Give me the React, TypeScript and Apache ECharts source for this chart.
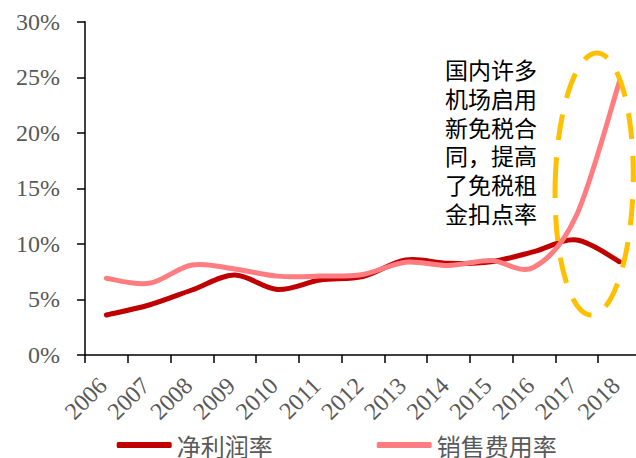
import React, { useEffect, useRef } from "react";
import * as echarts from "echarts";

const years = ["2006", "2007", "2008", "2009", "2010", "2011", "2012", "2013", "2014", "2015", "2016", "2017", "2018"];
const netMargin = [3.6, 4.5, 5.85, 7.2, 5.9, 6.75, 7.05, 8.55, 8.25, 8.4, 9.3, 10.35, 8.4];
const salesExpense = [6.9, 6.45, 8.1, 7.75, 7.1, 7.1, 7.25, 8.35, 8.05, 8.5, 7.9, 12.6, 24.6];
const seriesNames = ["净利润率", "销售费用率"];
const seriesColors = ["#C00000", "#FF7C80"];
const noteText = "国内许多\n机场启用\n新免税合\n同，提高\n了免税租\n金扣点率";

const SERIF = "'Liberation Serif', 'Times New Roman', serif";
const CJK = "'Noto Sans CJK SC', sans-serif";

// Catmull-Rom style smoothing (like a spreadsheet's smoothed line), positions from the axes
function smoothRender(values: number[], color: string) {
  return (params: any, api: any) => {
    if (params.dataIndex !== 0) return null;
    const pts: number[][] = values.map((v, i) => api.coord([i, v]));
    const n = pts.length;
    let d = `M${pts[0][0]},${pts[0][1]}`;
    for (let i = 0; i < n - 1; i++) {
      const p0 = pts[Math.max(0, i - 1)];
      const p1 = pts[i];
      const p2 = pts[i + 1];
      const p3 = pts[Math.min(n - 1, i + 2)];
      const c1x = p1[0] + (p2[0] - p0[0]) / 6;
      const c1y = p1[1] + (p2[1] - p0[1]) / 6;
      const c2x = p2[0] - (p3[0] - p1[0]) / 6;
      const c2y = p2[1] - (p3[1] - p1[1]) / 6;
      d += ` C${c1x},${c1y} ${c2x},${c2y} ${p2[0]},${p2[1]}`;
    }
    return {
      type: "path",
      shape: { pathData: d },
      style: { fill: "none", stroke: color, lineWidth: 5, lineCap: "round", lineJoin: "round" },
    };
  };
}

export default function App() {
  const ref = useRef<HTMLDivElement>(null);
  useEffect(() => {
    if (!ref.current) return;
    const chart = echarts.init(ref.current, undefined, { renderer: "svg" });
    chart.setOption({
      animation: false,
      backgroundColor: "#ffffff",
      grid: { left: 85, top: 21.7, width: 555.75, height: 333.3, containLabel: false },
      xAxis: {
        type: "category",
        data: years,
        boundaryGap: true,
        axisLine: { lineStyle: { color: "#000000", width: 1.5 } },
        axisTick: { show: true, length: 8, inside: false, lineStyle: { color: "#000000", width: 1.5 } },
        axisLabel: {
          rotate: 45,
          margin: 23,
          padding: [0, 5, 0, 0],
          color: "#595959",
          fontFamily: SERIF,
          fontSize: 24,
          interval: 0,
        },
        splitLine: { show: false },
      },
      yAxis: {
        type: "value",
        min: 0,
        max: 30,
        interval: 5,
        axisLine: { show: true, lineStyle: { color: "#000000", width: 1.5 } },
        axisTick: { show: true, length: 8, inside: false, lineStyle: { color: "#000000", width: 1.5 } },
        axisLabel: {
          formatter: "{value}%",
          margin: 25,
          color: "#595959",
          fontFamily: SERIF,
          fontSize: 24,
        },
        splitLine: { show: false },
      },
      legend: [
        {
          data: [seriesNames[0]],
          left: 111.7,
          top: 428,
          icon: "roundRect",
          itemWidth: 55,
          itemHeight: 6,
          textStyle: { color: "#595959", fontFamily: CJK, fontSize: 24 },
        },
        {
          data: [seriesNames[1]],
          left: 371.7,
          top: 428,
          icon: "roundRect",
          itemWidth: 55,
          itemHeight: 6,
          textStyle: { color: "#595959", fontFamily: CJK, fontSize: 24 },
        },
      ],
      series: [
        {
          name: seriesNames[0],
          type: "custom",
          data: netMargin.map((v, i) => [i, v]),
          encode: { x: 0, y: 1 },
          renderItem: smoothRender(netMargin, seriesColors[0]),
          itemStyle: { color: seriesColors[0] },
          z: 2,
        },
        {
          name: seriesNames[1],
          type: "custom",
          data: salesExpense.map((v, i) => [i, v]),
          encode: { x: 0, y: 1 },
          renderItem: smoothRender(salesExpense, seriesColors[1]),
          itemStyle: { color: seriesColors[1] },
          z: 3,
        },
      ],
      graphic: [
        {
          type: "text",
          left: 445,
          top: 55,
          style: {
            text: noteText,
            fill: "#000000",
            font: `23px ${CJK}`,
            lineHeight: 28.7,
          },
          z: 10,
        },
        {
          type: "ellipse",
          shape: { cx: 594, cy: 184, rx: 39, ry: 131 },
          originX: 594,
          originY: 184,
          rotation: -0.023,
          style: { fill: "none", stroke: "#FFC000", lineWidth: 5, lineDash: [26, 17] },
          z: 10,
        },
      ],
    });
    return () => chart.dispose();
  }, []);
  return (
    <div style={{ position: "fixed", left: 0, top: 0, width: 636, height: 458, overflow: "hidden", background: "#fff" }}>
      <div ref={ref} style={{ width: 650, height: 458 }} />
    </div>
  );
}
